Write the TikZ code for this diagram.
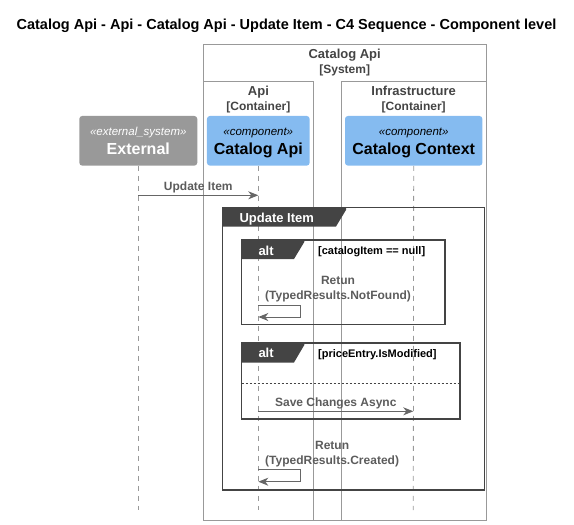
\documentclass[tikz,border=0pt]{standalone}
\usepackage{fontspec}
\setmainfont{Liberation Sans}
\usetikzlibrary{
    arrows.meta,
    calc,
    %positioning,
}
\definecolor{boxline}{HTML}{999999}
\definecolor{dark}{HTML}{444444}
\definecolor{msggrey}{HTML}{666666}
\definecolor{compblue}{HTML}{85BBF0}
\definecolor{extgrey}{HTML}{999999}

\begin{document}
\begin{tikzpicture}[x=1pt, y=-1pt, 
    boundary/.style = {draw=boxline, line width=1pt},
    blabel/.style = {anchor=base, inner sep=0pt, text=dark, font=\fontsize{13}{15}\selectfont\bfseries},
    btype/.style = {anchor=base, inner sep=0pt, text=dark, font=\fontsize{12}{14}\selectfont\bfseries},
    comp/.style = {fill=compblue, rounded corners=3pt, minimum height=49.7pt, inner sep=0pt},
    extsys/.style = {fill=extgrey, rounded corners=3pt, minimum height=49.7pt, inner sep=0pt},
    stereo/.style = {anchor=base, inner sep=0pt, font=\fontsize{11.5}{13}\selectfont\itshape},
    cname/.style = {anchor=base, inner sep=0pt, font=\fontsize{16}{18}\selectfont\bfseries},
    lifeline/.style = {draw=boxline, line width=0.8pt, dash pattern=on 5pt off 5pt},
    msg/.style = {draw=msggrey, line width=1pt, -{Stealth[length=10pt, width=8pt, inset=3pt, fill=msggrey]}},
    msglabel/.style = {above=2pt, inner sep=0pt, text=msggrey!90!black, font=\fontsize{12}{15}\selectfont\bfseries},
    selflabel/.style = {anchor=south west, inner sep=0pt, align=center, text=msggrey!90!black, font=\fontsize{12}{15}\selectfont\bfseries},
    frame/.style = {draw=dark, line width=1.5pt},
    framehead/.style = {fill=dark},
    headtext/.style = {anchor=base west, inner sep=0pt, text=white, font=\fontsize{13}{15}\selectfont\bfseries},
    guard/.style = {anchor=base west, inner sep=0pt, text=black, font=\fontsize{11}{13}\selectfont\bfseries}] 
    \useasboundingbox (0,0) rectangle (574,525);
    \node[anchor=base, inner sep=0pt, font=\fontsize{14.5}{16}\selectfont\bfseries] (title) at (286.5,29) {Catalog Api - Api - Catalog Api - Update Item - C4 Sequence - Component level};

    % boundaries
    \draw[boundary] (203.3,44.3) rectangle (486,520);
    \node[blabel] (sysname) at (344.7,58) {Catalog Api};
    \node[btype] (systype) at (344.7,73.3) {[System]};
    \draw[boundary] (203.3,81.7) rectangle (313.5,520);
    \node[blabel] (apiname) at (258.4,95.3) {Api};
    \node[btype] (apitype) at (258.4,110) {[Container]};
    \draw[boundary] (341.3,81.7) rectangle (486,520);
    \node[blabel] (infname) at (413.7,95.3) {Infrastructure};
    \node[btype] (inftype) at (413.7,110) {[Container]};

    % participants
    \node[extsys, minimum width=118pt] (ext) at (138.3,140.8) {};
    \node[stereo, text=white] (extst) at (138.3,135.5) {«external\_system»};
    \node[cname, text=white] (extname) at (138.3,154.5) {External};
    \node[comp, minimum width=102.7pt] (api) at (258.3,140.8) {};
    \node[stereo] (apist) at (258.3,135.5) {«component»};
    \node[cname] (apiname2) at (258.3,154.5) {Catalog Api};
    \node[comp, minimum width=137.4pt] (ctx) at (413.7,140.8) {};
    \node[stereo] (ctxst) at (413.7,135.5) {«component»};
    \node[cname] (ctxname) at (413.7,154.5) {Catalog Context};

    % lifelines
    \coordinate (extend) at (138.3,510);
    \coordinate (apiend) at (258.3,510);
    \coordinate (ctxend) at (413.3,510);
    \draw[lifeline] (ext) -- (extend);
    \draw[lifeline] (api) -- (apiend);
    \draw[lifeline] (ctx) -- (ctxend);

    % frames
    \draw[frame] (222.7,207.3) rectangle (484.3,490);
    \fill[framehead] (222.7,207.3) -- (346,207.3) -- (346,210) -- (336,226.5) -- (222.7,226.5) -- cycle;
    \node[headtext] (grpname) at (239.3,222) {Update Item};
    \draw[frame] (241.7,240) rectangle (445,324.5);
    \fill[framehead] (241.7,240) -- (304.3,240) -- (304.3,242) -- (294,259) -- (241.7,259) -- cycle;
    \node[headtext] (alt1) at (258.3,255) {alt};
    \node[guard] (guard1) at (318,254.7) {[catalogItem == null]};
    \draw[frame] (241.7,343) rectangle (460,419);
    \fill[framehead] (241.7,343) -- (304.3,343) -- (304.3,345) -- (294,362.5) -- (241.7,362.5) -- cycle;
    \node[headtext] (alt2) at (258.3,357.5) {alt};
    \node[guard] (guard2) at (318,357.3) {[priceEntry.IsModified]};
    \draw[dark, line width=0.8pt, dash pattern=on 2pt off 2pt] (241.7,383.3) -- (460,383.3);

    % messages
    \coordinate (ext-m1) at (138.3,195.3);
    \coordinate (api-m1) at (258.3,195.3);
    \draw[msg] (ext-m1) -- node[msglabel] {Update Item} (api-m1);
    \coordinate (api-r1a) at (258.3,305);
    \coordinate (api-r1b) at (258.3,317);
    \node[selflabel] (ret1) at (265,302.5) {Retun\\(TypedResults.NotFound)};
    \draw[msg] (api-r1a) -- ++(42,0) |- (api-r1b);
    \coordinate (api-m2) at (258.3,411.3);
    \coordinate (ctx-m2) at (413.3,411.3);
    \draw[msg] (api-m2) -- node[msglabel] {Save Changes Async} (ctx-m2);
    \coordinate (api-r2a) at (258.3,469.7);
    \coordinate (api-r2b) at (258.3,481.7);
    \node[selflabel] (ret2) at (265,467) {Retun\\(TypedResults.Created)};
    \draw[msg] (api-r2a) -- ++(42,0) |- (api-r2b);
\end{tikzpicture}
\end{document}
